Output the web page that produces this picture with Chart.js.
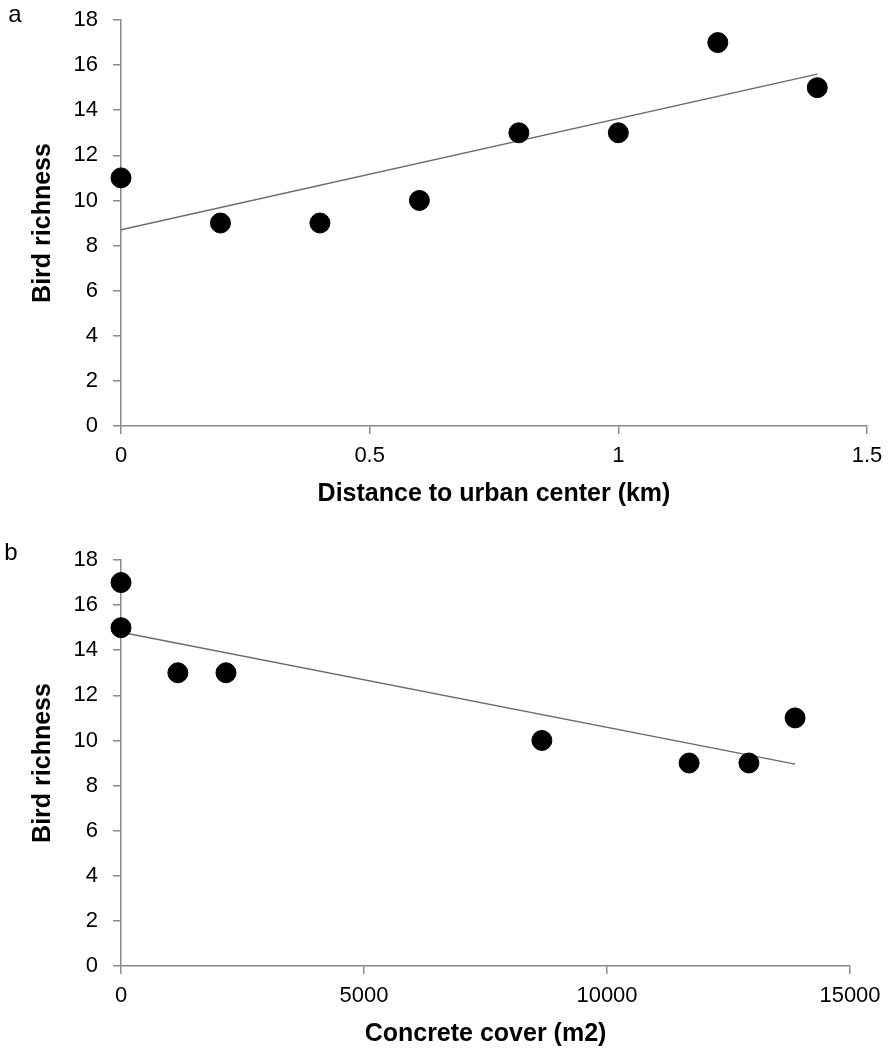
<!DOCTYPE html>
<html>
<head>
<meta charset="utf-8">
<script src="https://cdn.jsdelivr.net/npm/chart.js@4"></script>
<style>
  body { margin: 0; background: #fff; }
  canvas { position: absolute; left: 0; }
  #chartA { top: 0; }
  #chartB { top: 540px; }
</style>
</head>
<body>
<canvas id="chartA" width="890" height="530"></canvas>
<canvas id="chartB" width="890" height="509"></canvas>
<script>
// panel a: distance to urban center
const distanceKm = [0, 0.2, 0.4, 0.6, 0.8, 1.0, 1.2, 1.4];
const richnessA = [11, 9, 9, 10, 13, 13, 17, 15];
const trendAX = [0, 1.4];
const trendAY = [8.7, 15.6];
const xTicksA = [0, 0.5, 1, 1.5];

// panel b: concrete cover
const concreteM2 = [0, 0, 1170, 2160, 8660, 11690, 12920, 13870];
const richnessB = [17, 15, 13, 13, 10, 9, 9, 11];
const trendBX = [0, 13870];
const trendBY = [14.8, 8.95];
const xTicksB = [0, 5000, 10000, 15000];

const yTicks = [0, 2, 4, 6, 8, 10, 12, 14, 16, 18];

const axisGray = '#8a8a8a';
const fontFamily = "'Liberation Sans', Arial, sans-serif";

function pairs(xs, ys) {
    return xs.map((x, i) => ({ x: x, y: ys[i] }));
}

function panelLetter(letter, x, y) {
    return {
        id: 'panelLetter',
        afterDraw(chart) {
            const { ctx } = chart;
            ctx.save();
            ctx.font = '24px ' + fontFamily;
            ctx.fillStyle = '#000';
            ctx.textAlign = 'center';
            ctx.textBaseline = 'middle';
            ctx.fillText(letter, x, y);
            ctx.restore();
        }
    };
}

function makeChart(id, opts) {
    const ctx = document.getElementById(id).getContext('2d');
    new Chart(ctx, {
        type: 'scatter',
        data: {
            datasets: [{
                data: pairs(opts.xs, opts.ys),
                backgroundColor: '#000',
                borderColor: '#000',
                pointRadius: 10,
                pointHoverRadius: 10,
                clip: false
            }, {
                type: 'line',
                data: pairs(opts.trendX, opts.trendY),
                borderColor: '#6a6a6a',
                borderWidth: 1.5,
                pointRadius: 0,
                fill: false
            }]
        },
        options: {
            responsive: false,
            animation: false,
            layout: {
                padding: { top: 20, right: opts.padRight, bottom: 0, left: 0 }
            },
            plugins: {
                legend: { display: false },
                tooltip: { enabled: false }
            },
            scales: {
                x: {
                    type: 'linear',
                    min: opts.xTicks[0],
                    max: opts.xTicks[opts.xTicks.length - 1],
                    afterBuildTicks(scale) {
                        scale.ticks = opts.xTicks.map(v => ({ value: v }));
                    },
                    afterFit(scale) {
                        scale.height = opts.xHeight;
                        scale.paddingLeft = 0;
                        scale.paddingRight = 0;
                    },
                    grid: {
                        drawOnChartArea: false,
                        drawTicks: true,
                        tickLength: 8,
                        color: axisGray,
                        lineWidth: 1.5
                    },
                    border: { color: axisGray, width: 1.5 },
                    ticks: {
                        color: '#000',
                        padding: 9,
                        maxRotation: 0,
                        font: { family: fontFamily, size: 22 },
                        callback: v => String(v)
                    },
                    title: {
                        display: true,
                        text: opts.xTitle,
                        color: '#000',
                        font: { family: fontFamily, size: 25, weight: 'bold' },
                        padding: { top: 0, bottom: opts.xTitlePad }
                    }
                },
                y: {
                    min: 0,
                    max: 18,
                    afterBuildTicks(scale) {
                        scale.ticks = yTicks.map(v => ({ value: v }));
                    },
                    afterFit(scale) {
                        scale.width = 121;
                        scale.paddingTop = 0;
                        scale.paddingBottom = 0;
                    },
                    grid: {
                        drawOnChartArea: false,
                        drawTicks: true,
                        tickLength: 8,
                        color: axisGray,
                        lineWidth: 1.5
                    },
                    border: { color: axisGray, width: 1.5 },
                    ticks: {
                        color: '#000',
                        padding: 15,
                        font: { family: fontFamily, size: 22 }
                    },
                    title: {
                        display: true,
                        text: 'Bird richness',
                        color: '#000',
                        font: { family: fontFamily, size: 25, weight: 'bold' },
                        padding: { top: 28, bottom: 0 }
                    }
                }
            }
        },
        plugins: [panelLetter(opts.letter, opts.letterX, opts.letterY)]
    });
}

makeChart('chartA', {
    xs: distanceKm, ys: richnessA, trendX: trendAX, trendY: trendAY,
    xTicks: xTicksA, xTitle: 'Distance to urban center (km)',
    padRight: 23, xHeight: 104, xTitlePad: 21,
    letter: 'a', letterX: 15, letterY: 15
});

makeChart('chartB', {
    xs: concreteM2, ys: richnessB, trendX: trendBX, trendY: trendBY,
    xTicks: xTicksB, xTitle: 'Concrete cover (m2)',
    padRight: 40, xHeight: 83, xTitlePad: 0,
    letter: 'b', letterX: 11, letterY: 13
});
</script>
</body>
</html>
